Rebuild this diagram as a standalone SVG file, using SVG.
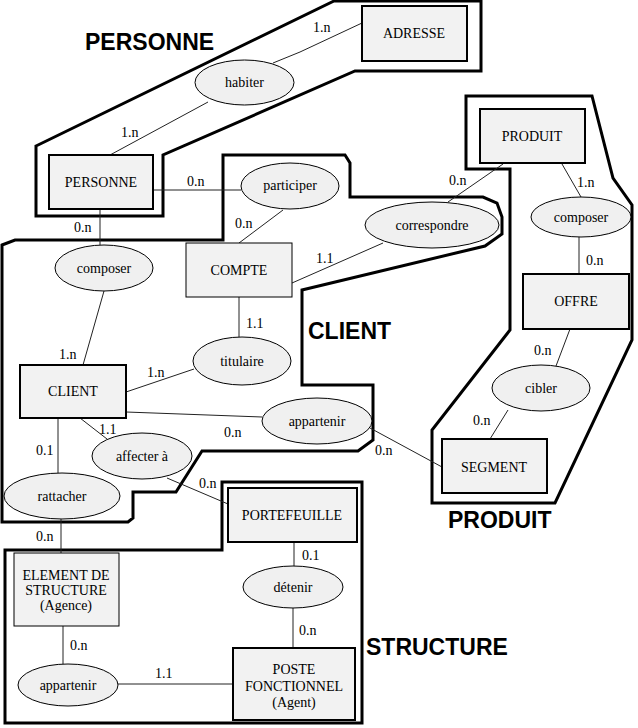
<svg xmlns="http://www.w3.org/2000/svg" width="638" height="728" viewBox="0 0 638 728">
<style>
.bg{fill:#fff}
.zone{fill:none;stroke:#000;stroke-width:3;stroke-linejoin:miter}
.ent{fill:#f2f2f2;stroke:#000;stroke-width:2}
.ent.thin{stroke-width:1}
.rel{fill:#f0f0f0;stroke:#000;stroke-width:1}
.t{font-family:"Liberation Serif","Times New Roman",serif;font-size:14px;fill:#000}
.c{text-anchor:middle}
.z{font-family:"Liberation Sans",Arial,sans-serif;font-size:23px;font-weight:bold;fill:#000}
.ln{stroke:#222;stroke-width:1;fill:none}
</style>
<rect class="bg" x="0" y="0" width="638" height="728"/>
<g id="zones">
<polygon class="zone" points="36,146 334,1 481,1 481,71 355,71 163,155 163,216 36,216"/>
<polygon class="zone" points="2,245 15,240 223,240 223,155 345,155 350,163 350,197 483,197 497,203 502,217 502,234 485,246 302,290 302,385 373,385 373,440 358,451 202,451 176,492 133,492 133,518 128,522 2,522"/>
<polygon class="zone" points="466,96 592,96 613,178 632,205 632,340 555,503 432,503 432,430 510,330 510,169 466,169"/>
<polygon class="zone" points="5,550 222,550 222,482 362,482 362,723 5,723"/>
<text class="z" x="85" y="50">PERSONNE</text>
<text class="z" x="308" y="339">CLIENT</text>
<text class="z" x="448" y="528">PRODUIT</text>
<text class="z" x="366" y="655">STRUCTURE</text>
</g>
<g id="connectors">
<line class="ln" x1="300" y1="52" x2="362" y2="23"/>
<line class="ln" x1="273" y1="63" x2="300" y2="52"/>
<line class="ln" x1="110" y1="155" x2="208" y2="102"/>
<line class="ln" x1="153" y1="190" x2="241" y2="190"/>
<line class="ln" x1="100" y1="209" x2="100" y2="245"/>
<line class="ln" x1="283" y1="210" x2="239" y2="243"/>
<line class="ln" x1="503" y1="164" x2="448" y2="202"/>
<line class="ln" x1="383" y1="243" x2="292" y2="283"/>
<line class="ln" x1="104" y1="291" x2="83" y2="365"/>
<line class="ln" x1="239" y1="297" x2="239" y2="337"/>
<line class="ln" x1="126" y1="392" x2="194" y2="369"/>
<line class="ln" x1="126" y1="412" x2="262" y2="417"/>
<line class="ln" x1="370" y1="428" x2="442" y2="467"/>
<line class="ln" x1="80" y1="418" x2="107" y2="439"/>
<line class="ln" x1="167" y1="478" x2="228" y2="504"/>
<line class="ln" x1="58" y1="418" x2="58" y2="473"/>
<line class="ln" x1="61" y1="519" x2="61" y2="553"/>
<line class="ln" x1="63" y1="626" x2="63" y2="664"/>
<line class="ln" x1="118" y1="684" x2="233" y2="684"/>
<line class="ln" x1="294" y1="542" x2="294" y2="567"/>
<line class="ln" x1="293" y1="608" x2="293" y2="648"/>
<line class="ln" x1="562" y1="164" x2="581" y2="197"/>
<line class="ln" x1="579" y1="237" x2="579" y2="274"/>
<line class="ln" x1="570" y1="329" x2="556" y2="366"/>
<line class="ln" x1="508" y1="410" x2="490" y2="439"/>
<text class="t" x="313" y="32">1.n</text>
<text class="t" x="121" y="137">1.n</text>
<text class="t" x="187" y="186">0.n</text>
<text class="t" x="74" y="232">0.n</text>
<text class="t" x="235" y="228">0.n</text>
<text class="t" x="449" y="185">0.n</text>
<text class="t" x="577" y="187">1.n</text>
<text class="t" x="316" y="263">1.1</text>
<text class="t" x="586" y="265">0.n</text>
<text class="t" x="246" y="328">1.1</text>
<text class="t" x="59" y="359">1.n</text>
<text class="t" x="147" y="377">1.n</text>
<text class="t" x="534" y="355">0.n</text>
<text class="t" x="473" y="425">0.n</text>
<text class="t" x="224" y="437">0.n</text>
<text class="t" x="375" y="455">0.n</text>
<text class="t" x="99" y="434">1.1</text>
<text class="t" x="36" y="455">0.1</text>
<text class="t" x="199" y="488">0.n</text>
<text class="t" x="36" y="541">0.n</text>
<text class="t" x="302" y="560">0.1</text>
<text class="t" x="299" y="635">0.n</text>
<text class="t" x="70" y="650">0.n</text>
<text class="t" x="155" y="678">1.1</text>
</g>
<g id="n-adresse"><rect class="ent" x="362" y="6" width="105" height="55"/><text class="t c" x="414" y="38">ADRESSE</text></g>
<g id="n-habiter"><ellipse class="rel" cx="244.5" cy="82.5" rx="49.5" ry="22.5"/><text class="t c" x="244.5" y="87">habiter</text></g>
<g id="n-personne"><rect class="ent" x="49" y="155" width="104" height="54"/><text class="t c" x="101" y="187">PERSONNE</text></g>
<g id="n-participer"><ellipse class="rel" cx="290" cy="186" rx="49" ry="23"/><text class="t c" x="290" y="190">participer</text></g>
<g id="n-produit"><rect class="ent" x="480" y="109" width="105" height="54"/><text class="t c" x="532" y="141">PRODUIT</text></g>
<g id="n-correspondre"><ellipse class="rel" cx="432" cy="225" rx="67" ry="23"/><text class="t c" x="432" y="230">correspondre</text></g>
<g id="n-composer-p"><ellipse class="rel" cx="581" cy="217" rx="50" ry="20"/><text class="t c" x="581" y="222">composer</text></g>
<g id="n-compte"><rect class="ent thin" x="186" y="243" width="106" height="54"/><text class="t c" x="239" y="275">COMPTE</text></g>
<g id="n-composer-c"><ellipse class="rel" cx="104" cy="268" rx="49" ry="23"/><text class="t c" x="104" y="273">composer</text></g>
<g id="n-offre"><rect class="ent" x="523" y="274" width="106" height="55"/><text class="t c" x="576" y="306">OFFRE</text></g>
<g id="n-titulaire"><ellipse class="rel" cx="242" cy="361" rx="49" ry="24"/><text class="t c" x="242" y="366">titulaire</text></g>
<g id="n-client"><rect class="ent" x="20" y="365" width="106" height="53"/><text class="t c" x="73" y="396">CLIENT</text></g>
<g id="n-cibler"><ellipse class="rel" cx="541" cy="388" rx="49" ry="23"/><text class="t c" x="541" y="393">cibler</text></g>
<g id="n-appartenir-c"><ellipse class="rel" cx="317" cy="421" rx="55" ry="23"/><text class="t c" x="317" y="426">appartenir</text></g>
<g id="n-affecter"><ellipse class="rel" cx="142" cy="456" rx="50" ry="23"/><text class="t c" x="142" y="461">affecter à</text></g>
<g id="n-segment"><rect class="ent" x="442" y="439" width="105" height="54"/><text class="t c" x="494" y="472">SEGMENT</text></g>
<g id="n-rattacher"><ellipse class="rel" cx="62" cy="496" rx="58" ry="23"/><text class="t c" x="62" y="501">rattacher</text></g>
<g id="n-portefeuille"><rect class="ent" x="228" y="488" width="129" height="54"/><text class="t c" x="292" y="520">PORTEFEUILLE</text></g>
<g id="n-element"><rect class="ent thin" x="14" y="553" width="105" height="73"/><text class="t c" x="66" y="580">ELEMENT DE</text><text class="t c" x="66" y="595">STRUCTURE</text><text class="t c" x="66" y="610">(Agence)</text></g>
<g id="n-detenir"><ellipse class="rel" cx="293" cy="587" rx="50" ry="21"/><text class="t c" x="293" y="592">détenir</text></g>
<g id="n-poste"><rect class="ent" x="233" y="648" width="122" height="72"/><text class="t c" x="294" y="674">POSTE</text><text class="t c" x="294" y="691">FONCTIONNEL</text><text class="t c" x="294" y="707">(Agent)</text></g>
<g id="n-appartenir-s"><ellipse class="rel" cx="68" cy="685" rx="50" ry="21"/><text class="t c" x="68" y="690">appartenir</text></g>
</svg>
